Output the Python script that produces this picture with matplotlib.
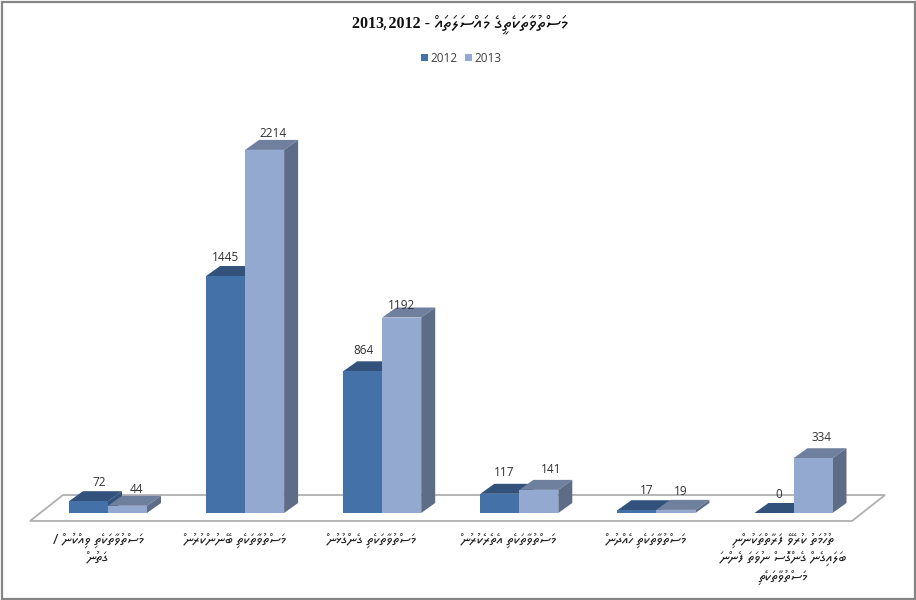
import matplotlib
matplotlib.use("Agg")
import matplotlib.pyplot as plt

# ---- data -----------------------------------------------------------------
title_text = "މަސްތުވާތަކެތީގެ މައްސަލަތައް- 2012، 2013"
series_names = ["2012", "2013"]
values_2012 = [72, 1445, 864, 117, 17, 0]
values_2013 = [44, 2214, 1192, 141, 19, 334]
categories = [
    "މަސްތުވާތަކެތި ވިއްކުން /\nގަތުން",
    "މަސްތުވާތަކެތި ބޭނުންކުރުން",
    "މަސްތުވާތަކެތި ގެންގުޅުން",
    "މަސްތުވާތަކެތި އެތެރެކުރުން",
    "މަސްތުވާތަކެތި ހެއްދުން",
    "ތުހުމަތު ކުރެވޭ ފަރާތްތަކުންނި\nބަލައިގެން ގެންގޮސް ނުވަތަ ފެންނަ\nމަސްތުވާތަކެތި",
]

# ---- styling / layout -------------------------------------------------------
THAANA = ["Noto Sans Thaana", "DejaVu Sans"]
# per-label nudges of the value labels, in pixels (right, up)
nudge_2012 = [(11, 12), (0, 12), (1, 14), (4, 15), (10, 13), (5, 12)]
nudge_2013 = [(9, 10), (8, 10), (0, 6), (12, 14), (5, 12), (9, 14)]


def visual(s):
    """matplotlib lays text left to right: put a right-to-left run in drawing order."""
    return "\n".join(line[::-1] for line in s.split("\n"))


W, H = 916, 600
fig = plt.figure(figsize=(W / 100, H / 100), dpi=100, facecolor="white")
x0_px, base_px = 108.0, 513.0
step_px, unit_px = 137.1, 0.164
ax = fig.add_axes([0, 1 - base_px / H, 1, base_px / H])
ax.set_xlim(-x0_px / step_px, (W - x0_px) / step_px)
ax.set_ylim(0, base_px / unit_px)
ax.patch.set_visible(False)
for s in ax.spines.values():
    s.set_visible(False)

bw = 39.0 / step_px
dx, dy = 14.0 / step_px, 10.0 / unit_px

# floor, in the same units as the bars
fl_lo, fl_hi = -8.0 / unit_px, 18.0 / unit_px
floor_x = [-78.0 / step_px, 744.0 / step_px, 777.0 / step_px, -45.0 / step_px]
ax.fill(floor_x, [fl_lo, fl_lo, fl_hi, fl_hi], facecolor="white", edgecolor="#b0b0b0",
        linewidth=1.3, clip_on=False, zorder=1)

cols = [("#4472a8", "#32527c", "#31547f"), ("#94a9d0", "#6f7f9e", "#5d6d88")]
positions = range(len(categories))
for k, vals in enumerate([values_2012, values_2013]):
    front, top, side = cols[k]
    for i, v in zip(positions, vals):
        left = i - bw + k * bw
        right = left + bw
        z = 3 + k + i * 2
        ax.fill([left, right, right + dx, left + dx], [v, v, v + dy, v + dy],
                facecolor=top, edgecolor="none", zorder=z)
        ax.fill([right, right + dx, right + dx, right], [0, dy, v + dy, v],
                facecolor=side, edgecolor="none", zorder=z)
        ax.bar(left, v, width=bw, align="edge", color=front, zorder=z + 0.5)
    ax.bar(0, 0, width=0, color=front, label=series_names[k])

for k, (vals, nudges) in enumerate([(values_2012, nudge_2012), (values_2013, nudge_2013)]):
    for i, v, (nx, ny) in zip(positions, vals, nudges):
        ax.text(i - bw + k * bw + bw / 2 + nx / step_px, v + ny / unit_px, str(v),
                ha="center", va="bottom", fontsize=8.5, family="Open Sans", color="#303030", zorder=30)

ax.set_yticks([])
label_shift = 10.0 / step_px
ax.set_xticks([i - label_shift for i in positions])
ax.set_xticklabels([visual(c) for c in categories], family=THAANA, fontsize=10.5,
                   color="#222222", linespacing=1.27)
ax.tick_params(axis="x", length=0, pad=14)

leg = ax.legend(loc="upper center", bbox_to_anchor=(461 / W, (base_px - 41) / base_px), ncol=2,
                frameon=False, handlelength=0.6, handleheight=0.6,
                handletextpad=0.2, columnspacing=0.66, prop={"family": "Open Sans", "size": 8.5})
for t in leg.get_texts():
    t.set_color("#404040")

# title: Thaana run and the digits run drawn as separate pieces on one line
parts = title_text.split("- ")
fig.text(434 / W, 1 - 24 / H, visual(parts[0]), ha="left", va="center", family=THAANA,
         fontsize=13.8, color="#111111")
fig.text(430 / W, 1 - 24 / H, "2013،2012 -", ha="right", va="center",
         family=["Liberation Serif", "Noto Sans Thaana"], fontweight="bold", fontsize=11.5, color="#111111")

# picture frame
fig.add_artist(plt.Rectangle((1.5 / W, 1.5 / H), (W - 3) / W, (H - 3) / H, transform=fig.transFigure,
                             fill=False, edgecolor="#858585", linewidth=1.6))
fig.savefig("out.png", dpi=100)
